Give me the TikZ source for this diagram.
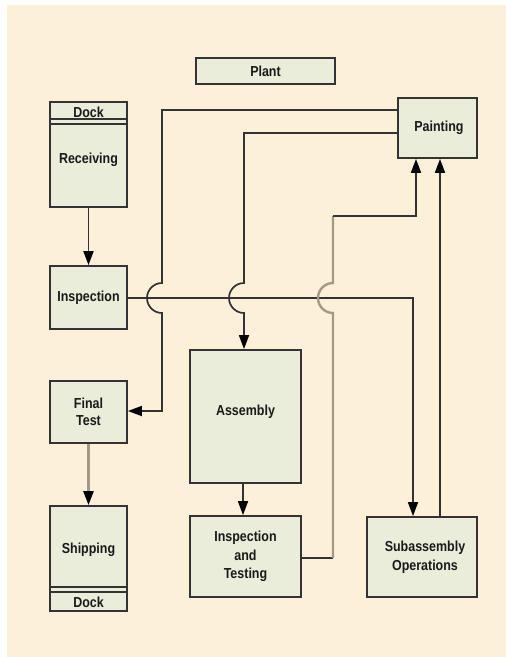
\documentclass[tikz,border=0pt]{standalone}
\usepackage{fontspec}
\setmainfont{Liberation Sans}[FakeStretch=0.86]
\usetikzlibrary{arrows.meta}
\definecolor{bgc}{HTML}{FDF0D9}
\definecolor{boxc}{HTML}{E9EDDA}
\definecolor{linec}{HTML}{333333}
\definecolor{tanc}{HTML}{A39A85}
\definecolor{txtc}{HTML}{1A1A1A}
\tikzset{
  procbox/.style={draw=linec, fill=boxc, line width=1.8pt, inner sep=0pt},
  lbl/.style={font=\fontsize{14.5}{18.5}\selectfont\bfseries, text=txtc, align=center, inner sep=0pt},
  conn/.style={draw=linec, line width=1.7pt},
  tanconn/.style={draw=tanc, line width=2.4pt},
  arr/.style={-{Triangle[length=14pt,width=10pt,color=black]}},
}
\begin{document}
\begin{tikzpicture}[x=1pt,y=-1pt]
\useasboundingbox (0,0) rectangle (506,657);
\fill[bgc] (7,5) rectangle (506,657);

% boxes
\node[procbox, minimum width=139pt, minimum height=26pt] (plant) at (265.5,71) {};
\node[lbl] (planttxt) at (plant.center) {Plant};

\node[procbox, minimum width=77pt, minimum height=105pt] (receiving) at (88.5,154.5) {};
\draw[linec, line width=1.5pt] (50,119) -- (127,119) (50,124) -- (127,124);
\node[lbl] (dock1) at (88.5,112) {Dock};
\node[lbl] (receivingtxt) at (88.5,160) {Receiving};

\node[procbox, minimum width=77pt, minimum height=63pt] (inspection) at (88.5,297.5) {};
\node[lbl] (inspectiontxt) at (inspection.center) {Inspection};

\node[procbox, minimum width=77pt, minimum height=62pt] (finaltest) at (88.5,412) {};
\node[lbl] (finaltesttxt) at (finaltest.center) {Final\\[-2pt]Test};

\node[procbox, minimum width=77pt, minimum height=105pt] (shipping) at (88.5,558.5) {};
\draw[linec, line width=1.5pt] (50,587) -- (127,587) (50,592) -- (127,592);
\node[lbl] (shippingtxt) at (88.5,550) {Shipping};
\node[lbl] (dock2) at (88.5,602) {Dock};

\node[procbox, minimum width=79pt, minimum height=60pt] (painting) at (437.5,128) {};
\node[lbl] (paintingtxt) at (439,128) {Painting};

\node[procbox, minimum width=111pt, minimum height=133pt] (assembly) at (245.5,416.5) {};
\node[lbl] (assemblytxt) at (245.5,412) {Assembly};

\node[procbox, minimum width=111pt, minimum height=81pt] (insptest) at (245.5,556.5) {};
\node[lbl] (insptesttxt) at (insptest.center) {Inspection\\and\\Testing};

\node[procbox, minimum width=110pt, minimum height=80pt] (subassy) at (422,557) {};
\node[lbl] (subassytxt) at (425,557) {Subassembly\\Operations};

% corner coordinates
\coordinate (ja) at (162,283);
\coordinate (jb) at (244,283);
\coordinate (jc) at (333,313);
\coordinate (cr) at (413,298);
\coordinate (pl) at (416,216);
\coordinate (pr) at (440,0);

% connectors
\draw[conn, arr] (receiving.south) -- (inspection.north);
\draw[tanconn, arr] (finaltest.south) -- (shipping.north);
\draw[conn, arr] (assembly.south -| 243,0) -- (insptest.north -| 243,0);

\draw[conn, arr] (painting.west |- 0,110) -- (ja |- 0,110) -- (ja)
  arc[start angle=270, end angle=90, radius=15] -- (ja |- 0,411) -- (finaltest.east |- 0,411);

\draw[conn, arr] (painting.west |- 0,133) -- (jb |- 0,133) -- (jb)
  arc[start angle=270, end angle=90, radius=15] -- (assembly.north -| jb);

\draw[conn, arr] (inspection.east |- 0,298) -- (cr) -- (subassy.north -| cr);

\draw[conn] (insptest.east |- 0,558) -- (jc |- 0,558);
\draw[tanconn] (jc |- 0,558) -- (jc)
  arc[start angle=90, end angle=270, radius=15] -- (jc |- pl);
\draw[conn, arr] (jc |- pl) -- (pl) -- (painting.south -| pl);

\draw[conn, arr] (subassy.north -| pr) -- (painting.south -| pr);
\end{tikzpicture}
\end{document}
